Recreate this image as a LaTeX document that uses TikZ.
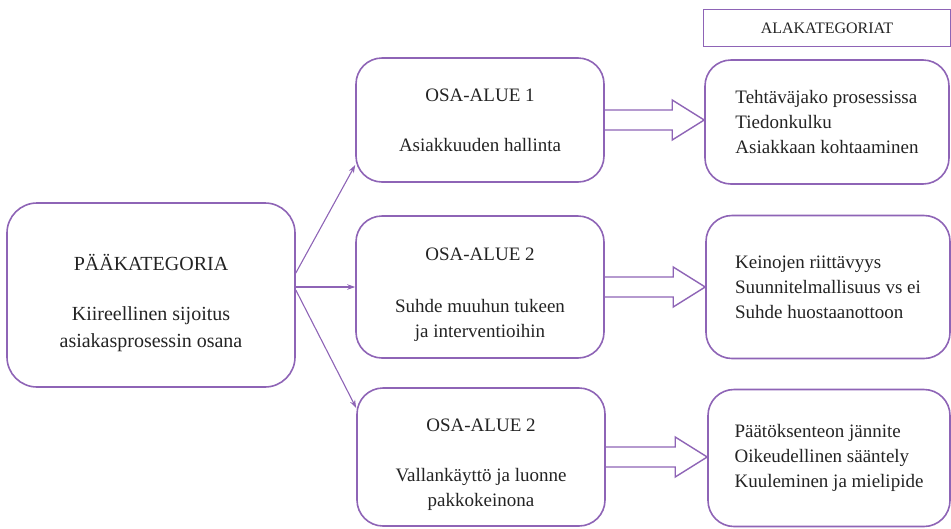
\documentclass[tikz,border=0pt]{standalone}
\usepackage{fontspec}
\setmainfont{Liberation Serif}
\usetikzlibrary{arrows.meta,calc}
\definecolor{lila}{RGB}{142,100,182}
\definecolor{teksti}{RGB}{35,35,35}

\begin{document}
\begin{tikzpicture}[x=1pt, y=-1pt,
      every node/.append style={text=teksti, align=center},
      yhteys/.style={draw=lila, line width=1.1pt, -{Stealth[length=8pt,width=5.5pt]}}]
    \tikzstyle{laatikko} = [draw=lila, line width=1.6pt, rounded corners=26pt, inner sep=0pt,
      font=\fontsize{19}{25}\selectfont]
    \tikzstyle{iso} = [laatikko, rounded corners=30pt, font=\fontsize{20}{27}\selectfont]
    \tikzstyle{lista} = [laatikko, align=left]
    \tikzstyle{nuoli} = [draw=lila, line width=1.4pt, line join=miter]
    \useasboundingbox (0,0) rectangle (951,528);
    % paakategoria
    \node [iso, minimum width=288pt, minimum height=184pt] (paa) at (151,295)
      {\\[6pt]PÄÄKATEGORIA\\[23pt]Kiireellinen sijoitus\\asiakasprosessin osana};
    % osa-alueet
    \node [laatikko, minimum width=248pt, minimum height=124pt] (osa1) at (480,120)
      {OSA-ALUE 1\\[25pt]Asiakkuuden hallinta};
    \node [laatikko, minimum width=248pt, minimum height=142pt] (osa2) at (480,287)
      {\\[4pt]OSA-ALUE 2\\[27pt]Suhde muuhun tukeen\\ja interventioihin};
    \node [laatikko, minimum width=248pt, minimum height=138pt] (osa3) at (481,457)
      {\\[4pt]OSA-ALUE 2\\[25pt]Vallankäyttö ja luonne\\pakkokeinona};
    % alakategoriat
    \node [draw=lila, line width=1pt, minimum width=247pt, minimum height=37pt,
      font=\fontsize{16}{19}\selectfont] (otsikko) at (827,28) {ALAKATEGORIAT};
    \node [lista, minimum width=244pt, minimum height=124pt] (ala1) at (827,122)
      {Tehtäväjako prosessissa\\Tiedonkulku\\Asiakkaan kohtaaminen};
    \node [lista, minimum width=244pt, minimum height=143pt] (ala2) at (828,287)
      {Keinojen riittävyys\\Suunnitelmallisuus vs ei\\Suhde huostaanottoon};
    \node [lista, minimum width=242pt, minimum height=137pt] (ala3) at (829,458)
      {Päätöksenteon jännite\\Oikeudellinen sääntely\\Kuuleminen ja mielipide};
    % yhteydet
    \draw [yhteys] ($(paa.east)+(0,-22)$) -- ($(osa1.west)+(0,45)$);
    \draw [yhteys] (paa.east |- osa2.west) -- (osa2.west);
    \draw [yhteys] ($(paa.east)+(0,-5)$) -- ($(osa3.west)+(0,-49)$);
    % paksut nuolet
    \draw [nuoli] let \p1=(osa1.east), \p2=(ala1.west) in
      (\x1,\y1+10pt) -- (\x2-32pt,\y1+10pt) -- (\x2-32pt,\y1+20pt) -- (\x2,\y1)
      -- (\x2-32pt,\y1-20pt) -- (\x2-32pt,\y1-10pt) -- (\x1,\y1-10pt);
    \draw [nuoli] let \p1=(osa2.east), \p2=(ala2.west) in
      (\x1,\y1+10pt) -- (\x2-32pt,\y1+10pt) -- (\x2-32pt,\y1+20pt) -- (\x2,\y1)
      -- (\x2-32pt,\y1-20pt) -- (\x2-32pt,\y1-10pt) -- (\x1,\y1-10pt);
    \draw [nuoli] let \p1=(osa3.east), \p2=(ala3.west) in
      (\x1,\y1+10pt) -- (\x2-32pt,\y1+10pt) -- (\x2-32pt,\y1+20pt) -- (\x2,\y1)
      -- (\x2-32pt,\y1-20pt) -- (\x2-32pt,\y1-10pt) -- (\x1,\y1-10pt);
  \end{tikzpicture}
\end{document}
